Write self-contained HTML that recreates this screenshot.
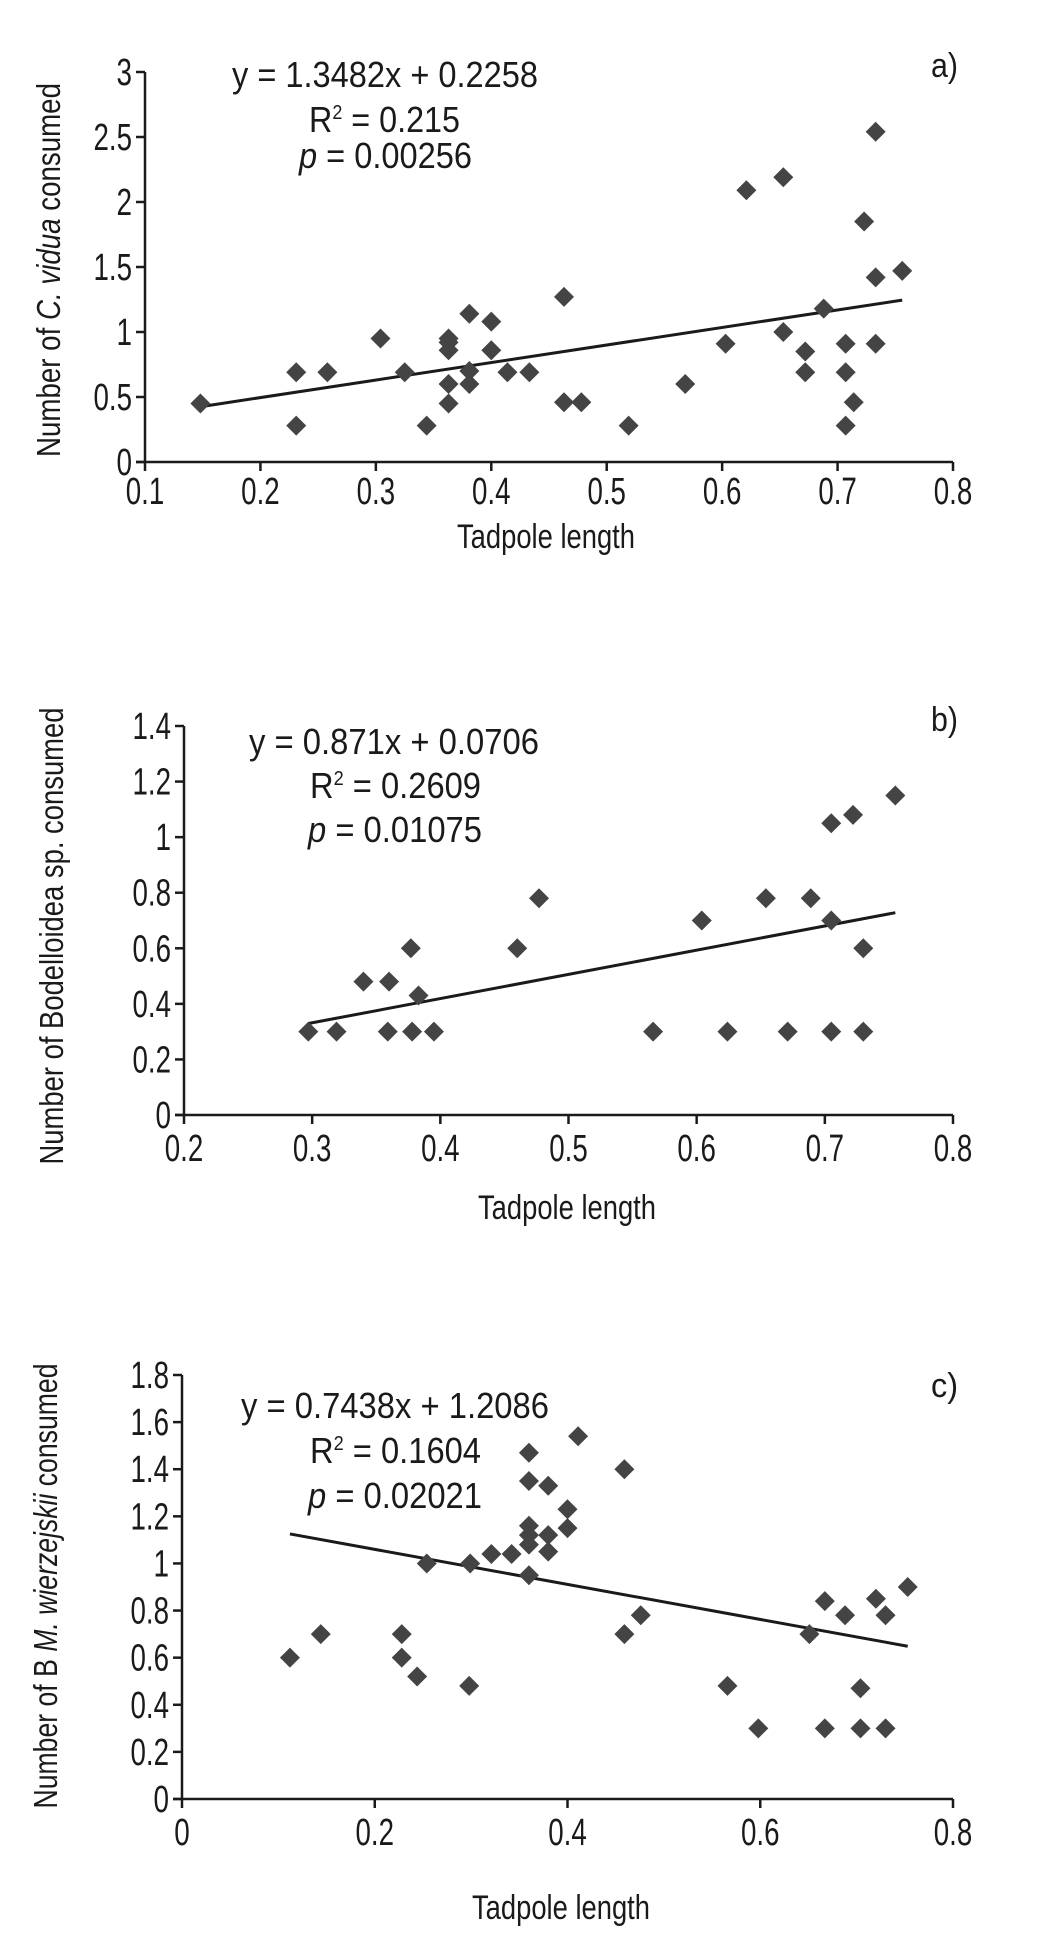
<!DOCTYPE html>
<html><head><meta charset="utf-8">
<style>
html,body{margin:0;padding:0;background:#fff;}
svg{display:block;}
text{font-family:"Liberation Sans Narrow","Liberation Sans",sans-serif;fill:#1a1a1a;}
.wide{font-family:"Liberation Sans",sans-serif;}
</style></head>
<body>
<svg id="fig" width="1045" height="1952" viewBox="0 0 1045 1952" xmlns="http://www.w3.org/2000/svg"></svg>
<script>
// Panel a data
const aX = [.148,.231,.231,.258,.304,.325,.344,.363,.363,.363,.363,.363,.381,.381,.381,.4,.4,.414,.433,.463,.463,.478,.519,.568,.603,.621,.653,.653,.672,.672,.688,.707,.707,.707,.714,.723,.733,.733,.733,.756];
const aY = [.45,.69,.28,.69,.95,.69,.28,.95,.92,.86,.6,.45,1.14,.7,.6,1.08,.86,.69,.69,1.27,.46,.46,.28,.6,.91,2.09,2.19,1.0,.85,.69,1.18,.91,.69,.28,.46,1.85,2.54,1.42,.91,1.47];
const aXTicks = [0.1,0.2,0.3,0.4,0.5,0.6,0.7,0.8];
const aYTicks = [0,0.5,1,1.5,2,2.5,3];
const aFit = [1.3482, 0.2258];
// Panel b data
const bX = [.297,.319,.34,.36,.359,.377,.378,.383,.395,.46,.477,.566,.604,.624,.654,.671,.689,.705,.705,.705,.722,.73,.73,.755];
const bY = [.3,.3,.48,.48,.3,.6,.3,.43,.3,.6,.78,.3,.7,.3,.78,.3,.78,1.05,.7,.3,1.08,.6,.3,1.15];
const bXTicks = [0.2,0.3,0.4,0.5,0.6,0.7,0.8];
const bYTicks = [0,0.2,0.4,0.6,0.8,1,1.2,1.4];
const bFit = [0.871, 0.0706];
// Panel c data
const cX = [.112,.144,.228,.228,.244,.254,.298,.299,.321,.342,.36,.36,.36,.36,.36,.36,.38,.38,.38,.4,.4,.411,.459,.459,.476,.566,.598,.651,.667,.667,.688,.704,.704,.72,.73,.73,.753];
const cY = [.6,.7,.7,.6,.52,1.0,.48,1.0,1.04,1.04,1.47,1.35,1.16,1.12,1.08,.95,1.33,1.12,1.05,1.23,1.15,1.54,1.4,.7,.78,.48,.3,.7,.84,.3,.78,.47,.3,.85,.78,.3,.9];
const cXTicks = [0,0.2,0.4,0.6,0.8];
const cYTicks = [0,0.2,0.4,0.6,0.8,1,1.2,1.4,1.6,1.8];
const cFit = [-0.7438, 1.2086];

const NS = "http://www.w3.org/2000/svg";
const svg = document.getElementById('fig');
function mk(tag, attrs, parent){
  const e = document.createElementNS(NS, tag);
  for (const k in attrs) e.setAttribute(k, attrs[k]);
  (parent||svg).appendChild(e);
  return e;
}
function fmt(v){ return String(v); }
function tlen(s){ let w=0; for (const ch of s) w += (ch==='.') ? 7.5 : 15.5; return w; }

function panel(cfg){
  const g = mk('g', {});
  
  
  const sx = v => cfg.x0 + (v - cfg.xmin) / (cfg.xmax - cfg.xmin) * (cfg.x1 - cfg.x0);
  const sy = v => cfg.y0 - (v - cfg.ymin) / (cfg.ymax - cfg.ymin) * (cfg.y0 - cfg.y1);
  const ya = mk('line', {x1:cfg.x0, y1:cfg.y1, x2:cfg.x0, y2:cfg.y0+1, stroke:'#1a1a1a','stroke-width':2.5}, g);
  
  
  const xa = mk('line', {x1:cfg.x0-9, y1:cfg.y0, x2:cfg.x1, y2:cfg.y0, stroke:'#1a1a1a','stroke-width':2.5}, g);
  
  
  cfg.yTicks.forEach(v => {
    const y = sy(v);
    mk('line', {x1:cfg.x0-9, y1:y, x2:cfg.x0, y2:y, stroke:'#1a1a1a','stroke-width':2.5}, g);
    const s = fmt(v);
    const t = mk('text', {x:cfg.x0-13, y:y+13, 'text-anchor':'end','font-size':38, textLength:tlen(s), lengthAdjust:'spacingAndGlyphs'}, g);
    t.textContent = s;
    
    
  });
  cfg.xTicks.forEach(v => {
    const x = sx(v);
    mk('line', {x1:x, y1:cfg.y0, x2:x, y2:cfg.y0+9, stroke:'#1a1a1a','stroke-width':2.5}, g);
    const s = fmt(v);
    const t = mk('text', {x:x, y:cfg.y0+cfg.xlabOff, 'text-anchor':'middle','font-size':38, textLength:tlen(s), lengthAdjust:'spacingAndGlyphs'}, g);
    t.textContent = s;
    
    
  });
  const xs0 = Math.min(...cfg.xs), xs1 = Math.max(...cfg.xs);
  const tl = mk('line', {x1:sx(xs0), y1:sy(cfg.fit[0]*xs0+cfg.fit[1]), x2:sx(xs1), y2:sy(cfg.fit[0]*xs1+cfg.fit[1]), stroke:'#1a1a1a','stroke-width':3}, g);
  
  
  cfg.xs.forEach((xv, i) => {
    const cx = sx(xv), cy = sy(cfg.ys[i]), r = 10;
    const p = mk('path', {d:`M${cx} ${cy-r}L${cx+r} ${cy}L${cx} ${cy+r}L${cx-r} ${cy}Z`, fill:'#444'}, g);
    
    
  });
  const xt = mk('text', {x:cfg.xtX, y:cfg.xtY, 'text-anchor':'middle','font-size':34, textLength:178, lengthAdjust:'spacingAndGlyphs'}, g);
  xt.textContent = 'Tadpole length';
  
  
  const yt = mk('text', {x:0, y:0, 'text-anchor':'middle','font-size':33, textLength:cfg.ytLen, lengthAdjust:'spacingAndGlyphs', transform:`translate(${cfg.ytX},${cfg.ytY}) rotate(-90)`}, g);
  if (cfg.ytWide) yt.setAttribute('class','wide');
  yt.innerHTML = cfg.ytHTML;
  
  
  const e1 = mk('text', {x:cfg.eq[0][0], y:cfg.eq[0][1], 'font-size':36, textLength:cfg.eq[0][2], lengthAdjust:'spacingAndGlyphs'}, g);
  e1.textContent = cfg.eqText;
  
  
  const e2 = mk('text', {x:cfg.eq[1][0], y:cfg.eq[1][1], 'font-size':36, textLength:cfg.eq[1][2], lengthAdjust:'spacingAndGlyphs'}, g);
  e2.innerHTML = 'R<tspan font-size="20" dy="-13">2</tspan><tspan dy="13"> = ' + cfg.r2 + '</tspan>';
  
  
  const e3 = mk('text', {x:cfg.eq[2][0], y:cfg.eq[2][1], 'font-size':36, textLength:cfg.eq[2][2], lengthAdjust:'spacingAndGlyphs'}, g);
  e3.innerHTML = '<tspan font-style="italic">p</tspan> = ' + cfg.p;
  
  
  const pl = mk('text', {x:cfg.plX, y:cfg.plY, 'font-size':34, textLength:27, lengthAdjust:'spacingAndGlyphs'}, g);
  pl.textContent = cfg.label;
  
  
}

panel({name:'panel-a', xs:aX, ys:aY, xTicks:aXTicks, yTicks:aYTicks, fit:aFit,
  x0:145, x1:953, y0:462, y1:72, xmin:0.1, xmax:0.8, ymin:0, ymax:3, xlabOff:42,
  xtX:546, xtY:548, ytX:60, ytY:270, ytLen:374, ytHTML:'Number of <tspan font-style="italic">C. vidua</tspan> consumed',
  eqText:'y = 1.3482x + 0.2258', r2:'0.215', p:'0.00256',
  eq:[[232,87,306],[309,132,151],[299,168,173]], plX:931, plY:77, label:'a)'});
panel({name:'panel-b', xs:bX, ys:bY, xTicks:bXTicks, yTicks:bYTicks, fit:bFit,
  x0:184, x1:953, y0:1115, y1:726, xmin:0.2, xmax:0.8, ymin:0, ymax:1.4, xlabOff:46,
  xtX:567, xtY:1219, ytX:63, ytY:936, ytLen:457, ytWide:true, ytHTML:'Number of Bodelloidea sp. consumed',
  eqText:'y = 0.871x + 0.0706', r2:'0.2609', p:'0.01075',
  eq:[[249,754,290],[310,798,171],[308,842,174]], plX:931, plY:731, label:'b)'});
panel({name:'panel-c', xs:cX, ys:cY, xTicks:cXTicks, yTicks:cYTicks, fit:cFit,
  x0:182, x1:953, y0:1799, y1:1375, xmin:0, xmax:0.8, ymin:0, ymax:1.8, xlabOff:46,
  xtX:561, xtY:1919, ytX:57, ytY:1586, ytLen:445, ytHTML:'Number of B <tspan font-style="italic">M. wierzejskii</tspan> consumed',
  eqText:'y = 0.7438x + 1.2086', r2:'0.1604', p:'0.02021',
  eq:[[241,1418,308],[310,1463,171],[308,1508,174]], plX:931, plY:1397, label:'c)'});
</script>
</body></html>
